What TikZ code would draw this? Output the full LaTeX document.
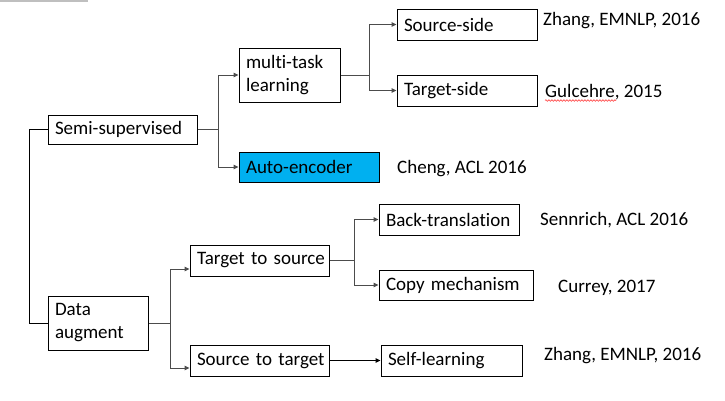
\documentclass[tikz,border=0pt]{standalone}
\usepackage{fontspec}
\setmainfont{Carlito}[Ligatures=NoCommon]
\usetikzlibrary{arrows.meta,decorations.pathmorphing}
\definecolor{aecyan}{HTML}{00B0F0}
\begin{document}
\begin{tikzpicture}[x=1pt,y=-1pt,
  font=\fontsize{19}{23}\selectfont,
  box/.style={draw=black,line width=1pt,inner xsep=7pt,inner ysep=0pt,align=left,anchor=center},
  conn/.style={draw=black!70,line width=1pt},
  arr/.style={conn,-{Triangle[length=5pt,width=4.5pt]}},
  cite/.style={anchor=base west,inner sep=0pt}]
\useasboundingbox (0,0) rectangle (725,400);
\fill[black!25] (0,0) rectangle (88,2);
% boxes
\node[box,minimum width=149pt,minimum height=29pt,text width=135pt] (semi) at (122.5,129.5) {\mbox{Semi-supervised}};
\node[box,minimum width=100pt,minimum height=54pt,text width=86pt] (data) at (98,323) {Data\\augment};
\node[box,minimum width=101pt,minimum height=54pt,text width=87pt] (mtl) at (289.5,75) {multi-task\\learning};
\node[box,fill=aecyan,minimum width=140pt,minimum height=30pt,text width=126pt] (auto) at (309,167) {\mbox{Auto-encoder}};
\node[box,minimum width=140pt,minimum height=31pt,text width=126pt] (src) at (467,24.5) {\mbox{Source-side}};
\node[box,minimum width=140pt,minimum height=31pt,text width=126pt] (tgt) at (467,90.5) {\mbox{Target-side}};
\node[box,minimum width=139pt,minimum height=31pt,text width=125pt] (t2s) at (259.5,260.5) {\mbox{Target to source}};
\node[box,minimum width=139pt,minimum height=31pt,text width=125pt] (s2t) at (259.5,360.5) {\mbox{Source to target}};
\node[box,minimum width=140pt,minimum height=31pt,text width=126pt] (bt) at (449,219.5) {\mbox{Back-translation}};
\node[box,minimum width=154pt,minimum height=30pt,text width=140pt] (copy) at (456,285) {\mbox{Copy mechanism}};
\node[box,minimum width=141pt,minimum height=31pt,text width=127pt] (self) at (451.5,360.5) {\mbox{Self-learning}};
% citations
\node[cite] (c1) at (543,25) {Zhang, EMNLP, 2016};
\node[cite] (c2) at (545,97) {Gulcehre, 2015};
\node[cite] (c3) at (397,173) {Cheng, ACL 2016};
\node[cite] (c4) at (540,225) {Sennrich, ACL 2016};
\node[cite] (c5) at (558,292) {Currey, 2017};
\node[cite] (c6) at (544,360) {Zhang, EMNLP, 2016};
\draw[red!80,line width=0.6pt,decorate,decoration={snake,amplitude=0.8pt,segment length=3pt}] (545,100.5) -- (616,100.5);
% connectors
\draw[line width=1pt] (semi.west) -- ++(-18,0) |- (data.west);
\draw[conn] (semi.east) -- ++(21,0) coordinate (j1);
\draw[arr] (j1) |- (mtl.west);
\draw[arr] (j1) |- (auto.west);
\draw[conn] (mtl.east) -- ++(29,0) coordinate (j2);
\draw[arr] (j2) |- (src.west);
\draw[arr] (j2) |- (tgt.west);
\draw[conn] (data.east) -- ++(22,0) coordinate (j3);
\draw[arr] (j3) |- ([yshift=-8.5pt]t2s.west);
\draw[arr] (j3) |- ([yshift=-7.5pt]s2t.west);
\draw[conn] (t2s.east) -- ++(25,0) coordinate (j4);
\draw[arr] (j4) |- (bt.west);
\draw[arr] (j4) |- (copy.west);
\draw[arr,draw=black] (s2t.east) -- (self.west);
\end{tikzpicture}
\end{document}
